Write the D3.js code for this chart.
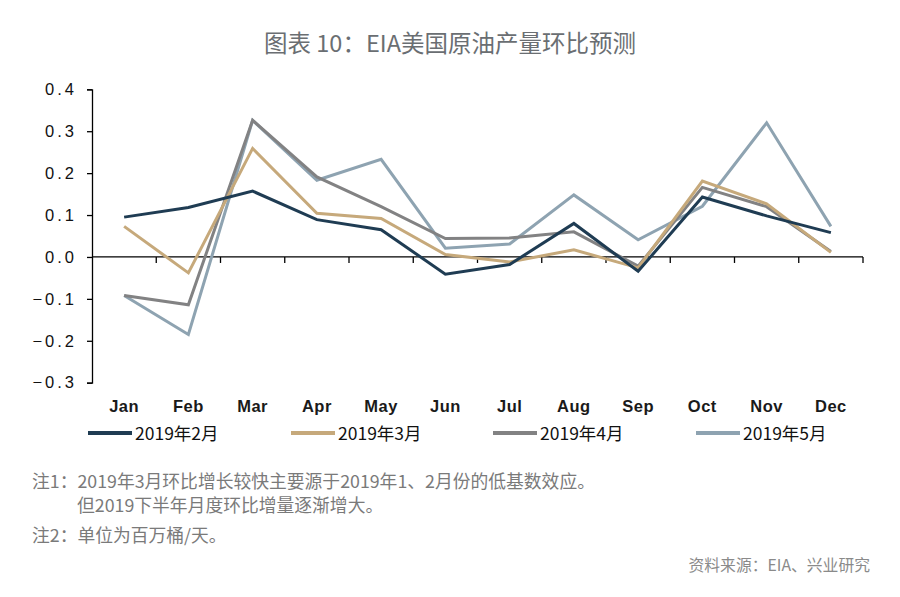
<!DOCTYPE html>
<html><head><meta charset="utf-8">
<script src="https://cdn.jsdelivr.net/npm/d3@7"></script>
<style>
body{margin:0;background:#fff;}
svg{display:block;}
</style></head>
<body>
<svg id="chart" width="900" height="597"></svg>
<script>
const months = ["Jan","Feb","Mar","Apr","May","Jun","Jul","Aug","Sep","Oct","Nov","Dec"];
const seriesNames = ["2019年2月","2019年3月","2019年4月","2019年5月"];
const feb2019 = [0.095,0.118,0.157,0.089,0.065,-0.041,-0.018,0.080,-0.034,0.143,0.098,0.058];
const mar2019 = [0.073,-0.038,0.259,0.104,0.092,0.006,-0.012,0.017,-0.026,0.181,0.127,0.011];
const apr2019 = [-0.092,-0.114,0.326,0.191,0.120,0.044,0.045,0.060,-0.022,0.166,0.120,0.013];
const may2019 = [-0.092,-0.185,0.326,0.183,0.233,0.021,0.031,0.148,0.041,0.121,0.320,0.073];
const yTicks = [0.4,0.3,0.2,0.1,0.0,-0.1,-0.2,-0.3];
const colors = ["#1f3c53","#c6a97b","#828283","#8ea3b1"];
const title = "图表 10：EIA美国原油产量环比预测";
const notes = ["注1：2019年3月环比增长较快主要源于2019年1、2月份的低基数效应。","但2019下半年月度环比增量逐渐增大。","注2：单位为百万桶/天。"];
const source = "资料来源：EIA、兴业研究";

const allSeries = [feb2019, mar2019, apr2019, may2019];
const svg = d3.select("#chart");
const plotL = 92, plotR = 863, plotT = 89.3, plotB = 382.7;

const x = d3.scaleBand().domain(months).range([plotL, plotR]);
const y = d3.scaleLinear().domain([-0.3, 0.4]).range([plotB, plotT]);

// title
svg.append("text").attr("x", 450).attr("y", 52).attr("text-anchor","middle")
  .attr("font-family","'Noto Sans CJK SC', 'Noto Sans', sans-serif").attr("font-size",23.5)
  .attr("fill","#6a6e72").text(title);

// y axis
const yAxis = svg.append("g").attr("transform",`translate(${plotL},0)`)
  .call(d3.axisLeft(y).tickValues(yTicks).tickFormat(d3.format(".1f")).tickSize(5).tickPadding(10));
yAxis.select(".domain").attr("stroke","#000").attr("stroke-width",1.3);
yAxis.selectAll(".tick line").attr("stroke","#000").attr("stroke-width",1.3);
yAxis.selectAll("text").attr("font-family","'Liberation Sans', Arial, sans-serif")
  .attr("font-size",16.5).attr("fill","#111").attr("letter-spacing","3px");

// x axis at zero
const xAxis = svg.append("g").attr("transform",`translate(0,${y(0)})`);
xAxis.append("line").attr("x1",plotL).attr("x2",plotR).attr("stroke","#000").attr("stroke-width",1.3);
const bounds = months.map(m => x(m) + x.bandwidth());
xAxis.selectAll("line.tk").data(bounds).join("line").attr("class","tk")
  .attr("x1",d=>d).attr("x2",d=>d).attr("y1",0).attr("y2",6).attr("stroke","#000").attr("stroke-width",1.3);

// x labels at bottom
svg.append("g").selectAll("text").data(months).join("text")
  .attr("x", d => x(d) + x.bandwidth()/2).attr("y", 412).attr("text-anchor","middle")
  .attr("font-family","'Liberation Sans', Arial, sans-serif").attr("font-size",16.5)
  .attr("font-weight","bold").attr("fill","#1a1a1a").attr("letter-spacing","0.5px").text(d=>d);

// lines
const line = d3.line().x((d,i)=>x(months[i]) + x.bandwidth()/2).y(d=>y(d));
const order = [3,2,1,0];
svg.append("g").selectAll("path").data(order).join("path")
  .attr("d", i => line(allSeries[i])).attr("fill","none")
  .attr("stroke", i => colors[i]).attr("stroke-width",3).attr("stroke-linejoin","miter");

// legend
const legX = [88, 291, 493, 696];
const leg = svg.append("g").selectAll("g").data(seriesNames).join("g")
  .attr("transform",(d,i)=>`translate(${legX[i]},433)`);
leg.append("line").attr("x1",0).attr("x2",44).attr("y1",0).attr("y2",0)
  .attr("stroke",(d,i)=>colors[i]).attr("stroke-width",4);
leg.append("text").attr("x",47).attr("y",6.5).attr("font-family","'Noto Sans CJK SC', sans-serif")
  .attr("font-size",17.5).attr("fill","#111").text(d=>d);

// notes
const noteFont = "'Noto Sans CJK SC', sans-serif";
svg.append("text").attr("x",32).attr("y",488).attr("font-family",noteFont).attr("font-size",17.8)
  .attr("fill","#7a7a7a").text(notes[0]);
svg.append("text").attr("x",77).attr("y",512).attr("font-family",noteFont).attr("font-size",17.8)
  .attr("fill","#7a7a7a").text(notes[1]);
svg.append("text").attr("x",32).attr("y",542).attr("font-family",noteFont).attr("font-size",17.8)
  .attr("fill","#7a7a7a").text(notes[2]);
svg.append("text").attr("x",870).attr("y",571).attr("text-anchor","end").attr("font-family",noteFont)
  .attr("font-size",15.8).attr("fill","#8a8a8a").text(source);
</script>
</body></html>
